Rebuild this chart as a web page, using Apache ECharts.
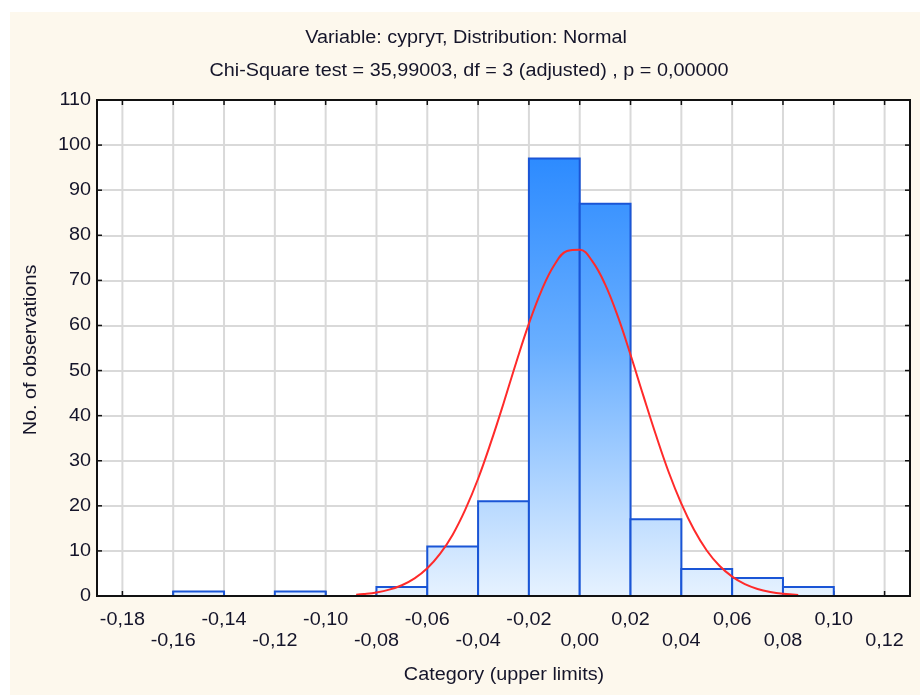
<!DOCTYPE html>
<html>
<head>
<meta charset="utf-8">
<script src="https://cdn.jsdelivr.net/npm/echarts@6/dist/echarts.min.js"></script>
<style>html,body{margin:0;padding:0;background:#fff;}#c{width:920px;height:695px;}</style>
</head>
<body>
<div id="c"></div>
<script>
// Bins (lower and upper limits) and observed counts
var binLower = [-0.16, -0.12, -0.08, -0.06, -0.04, -0.02, 0.00, 0.02, 0.04, 0.06, 0.08];
var binUpper = [-0.14, -0.10, -0.06, -0.04, -0.02, 0.00, 0.02, 0.04, 0.06, 0.08, 0.10];
var counts   = [1, 1, 2, 11, 21, 97, 87, 17, 6, 4, 2];

// Expected normal curve
var curveX = [-0.088, -0.085, -0.080, -0.075, -0.070, -0.065, -0.060, -0.055, -0.050, -0.045, -0.040, -0.035, -0.030, -0.025, -0.020, -0.015, -0.010, -0.005, 0.000, 0.005, 0.010, 0.015, 0.020, 0.025, 0.030, 0.035, 0.040, 0.045, 0.050, 0.055, 0.060, 0.065, 0.070, 0.075, 0.080, 0.086];
var curveY = [0.30, 0.44, 0.80, 1.41, 2.39, 3.91, 6.15, 9.33, 13.6, 19.2, 26.0, 34.0, 42.7, 51.8, 60.4, 67.8, 73.4, 76.5, 76.8, 74.2, 69.1, 62.0, 53.5, 44.5, 35.7, 27.5, 20.5, 14.7, 10.1, 6.7, 4.3, 2.64, 1.57, 0.90, 0.49, 0.23];

// Tick labels
var xTicks = [-0.18, -0.16, -0.14, -0.12, -0.10, -0.08, -0.06, -0.04, -0.02, 0.00, 0.02, 0.04, 0.06, 0.08, 0.10, 0.12];
var xTickLabels = ['-0,18', '-0,16', '-0,14', '-0,12', '-0,10', '-0,08', '-0,06', '-0,04', '-0,02', '0,00', '0,02', '0,04', '0,06', '0,08', '0,10', '0,12'];
var yTicks = [0, 10, 20, 30, 40, 50, 60, 70, 80, 90, 100, 110];

var titleLine1 = 'Variable: сургут, Distribution: Normal';
var titleLine2 = 'Chi-Square test = 35,99003, df = 3 (adjusted) , p = 0,00000';
var xName = 'Category (upper limits)';
var yName = 'No. of observations';

var X_MIN = -0.19, X_MAX = 0.13, Y_MIN = 0, Y_MAX = 110;
var FONT = '18px "Liberation Sans", Arial, sans-serif';
var SX = 1.1;
var TXT = '#15152a';

var chart = echarts.init(document.getElementById('c'), null, {renderer: 'canvas'});

var barData = binLower.map(function (lo, i) { return [lo, binUpper[i], counts[i]]; });
var curveData = curveX.map(function (x, i) { return [x, curveY[i]]; });

var barFill = new echarts.graphic.LinearGradient(0, 100, 0, 596, [
  {offset: 0, color: '#1a80ff'},
  {offset: 0.5, color: '#6aafff'},
  {offset: 1, color: '#e6f2ff'}
], true);

function txt(text, x, y, align, rot) {
  return {type: 'text', x: x, y: y, rotation: rot || 0, scaleX: SX, z: 50,
    style: {text: text, font: FONT, fill: TXT, x: 0, y: 0, textAlign: align || 'center', textVerticalAlign: 'middle'}};
}

chart.setOption({
  backgroundColor: '#ffffff',
  animation: false,
  graphic: [
    {type: 'rect', z: -10, shape: {x: 10, y: 12, width: 910, height: 683}, style: {fill: '#fdf8ed'}},
    txt(titleLine1, 466, 38),
    txt(titleLine2, 469, 71),
    txt(xName, 504, 675),
    txt(yName, 31, 350, 'center', Math.PI / 2)
  ],
  grid: {left: 97, right: 10, top: 100, bottom: 99, show: true, backgroundColor: '#ffffff', borderWidth: 0},
  xAxis: {
    type: 'value', min: X_MIN, max: X_MAX, interval: 0.01,
    axisLine: {show: false}, axisTick: {show: false}, splitLine: {show: false}, axisLabel: {show: false}
  },
  yAxis: {
    type: 'value', min: Y_MIN, max: Y_MAX, interval: 10,
    axisLine: {show: false, onZero: false}, axisTick: {show: false}, axisLabel: {show: false},
    splitLine: {show: true, lineStyle: {color: '#d9d9d9', width: 2}}
  },
  series: [
    {
      // vertical grid lines, x ticks and x labels
      type: 'custom', silent: true, z: 1,
      data: xTicks.map(function (v, i) { return [v, i]; }),
      renderItem: function (params, api) {
        var v = api.value(0), i = api.value(1);
        var top = api.coord([v, Y_MAX]);
        var bot = api.coord([v, Y_MIN]);
        var ly = bot[1] + 24 + (i % 2 === 1 ? 21 : 0);
        return {type: 'group', children: [
          {type: 'line', shape: {x1: bot[0], y1: top[1], x2: bot[0], y2: bot[1]}, style: {stroke: '#d9d9d9', lineWidth: 2}},
          {type: 'line', z2: 40, shape: {x1: bot[0], y1: bot[1] - 5, x2: bot[0], y2: bot[1]}, style: {stroke: '#111', lineWidth: 1.5}},
          {type: 'line', z2: 40, shape: {x1: bot[0], y1: top[1], x2: bot[0], y2: top[1] + 5}, style: {stroke: '#111', lineWidth: 1.5}},
          {type: 'text', x: bot[0], y: ly, scaleX: SX, style: {text: xTickLabels[i], font: FONT, fill: TXT, x: 0, y: 0, textAlign: 'center', textVerticalAlign: 'middle'}}
        ]};
      }
    },
    {
      // y ticks and y labels
      type: 'custom', silent: true, z: 6,
      data: yTicks.map(function (v) { return [v]; }),
      renderItem: function (params, api) {
        var v = api.value(0);
        var l = api.coord([X_MIN, v]);
        var r = api.coord([X_MAX, v]);
        return {type: 'group', children: [
          {type: 'line', shape: {x1: l[0], y1: l[1], x2: l[0] + 5, y2: l[1]}, style: {stroke: '#111', lineWidth: 1.5}},
          {type: 'line', shape: {x1: r[0] - 5, y1: r[1], x2: r[0], y2: r[1]}, style: {stroke: '#111', lineWidth: 1.5}},
          {type: 'text', x: l[0] - 6, y: l[1], scaleX: SX, style: {text: String(v), font: FONT, fill: TXT, x: 0, y: 0, textAlign: 'right', textVerticalAlign: 'middle'}}
        ]};
      }
    },
    {
      type: 'custom', z: 3,
      data: barData,
      renderItem: function (params, api) {
        var p1 = api.coord([api.value(0), api.value(2)]);
        var p2 = api.coord([api.value(1), 0]);
        return {
          type: 'rect',
          shape: {x: p1[0], y: p1[1], width: p2[0] - p1[0], height: p2[1] - p1[1]},
          style: {fill: barFill, stroke: '#1a55d6', lineWidth: 2}
        };
      }
    },
    {
      type: 'line', z: 5, data: curveData, smooth: 0.4, showSymbol: false, symbol: 'none',
      lineStyle: {color: '#ff2a2a', width: 2}
    },
    {
      // plot frame
      type: 'custom', silent: true, z: 8,
      data: [[X_MIN, Y_MAX, X_MAX, Y_MIN]],
      renderItem: function (params, api) {
        var a = api.coord([api.value(0), api.value(1)]);
        var b = api.coord([api.value(2), api.value(3)]);
        return {type: 'rect', shape: {x: a[0], y: a[1], width: b[0] - a[0], height: b[1] - a[1]},
          style: {fill: null, stroke: '#111', lineWidth: 2}};
      }
    }
  ]
});
</script>
</body>
</html>
